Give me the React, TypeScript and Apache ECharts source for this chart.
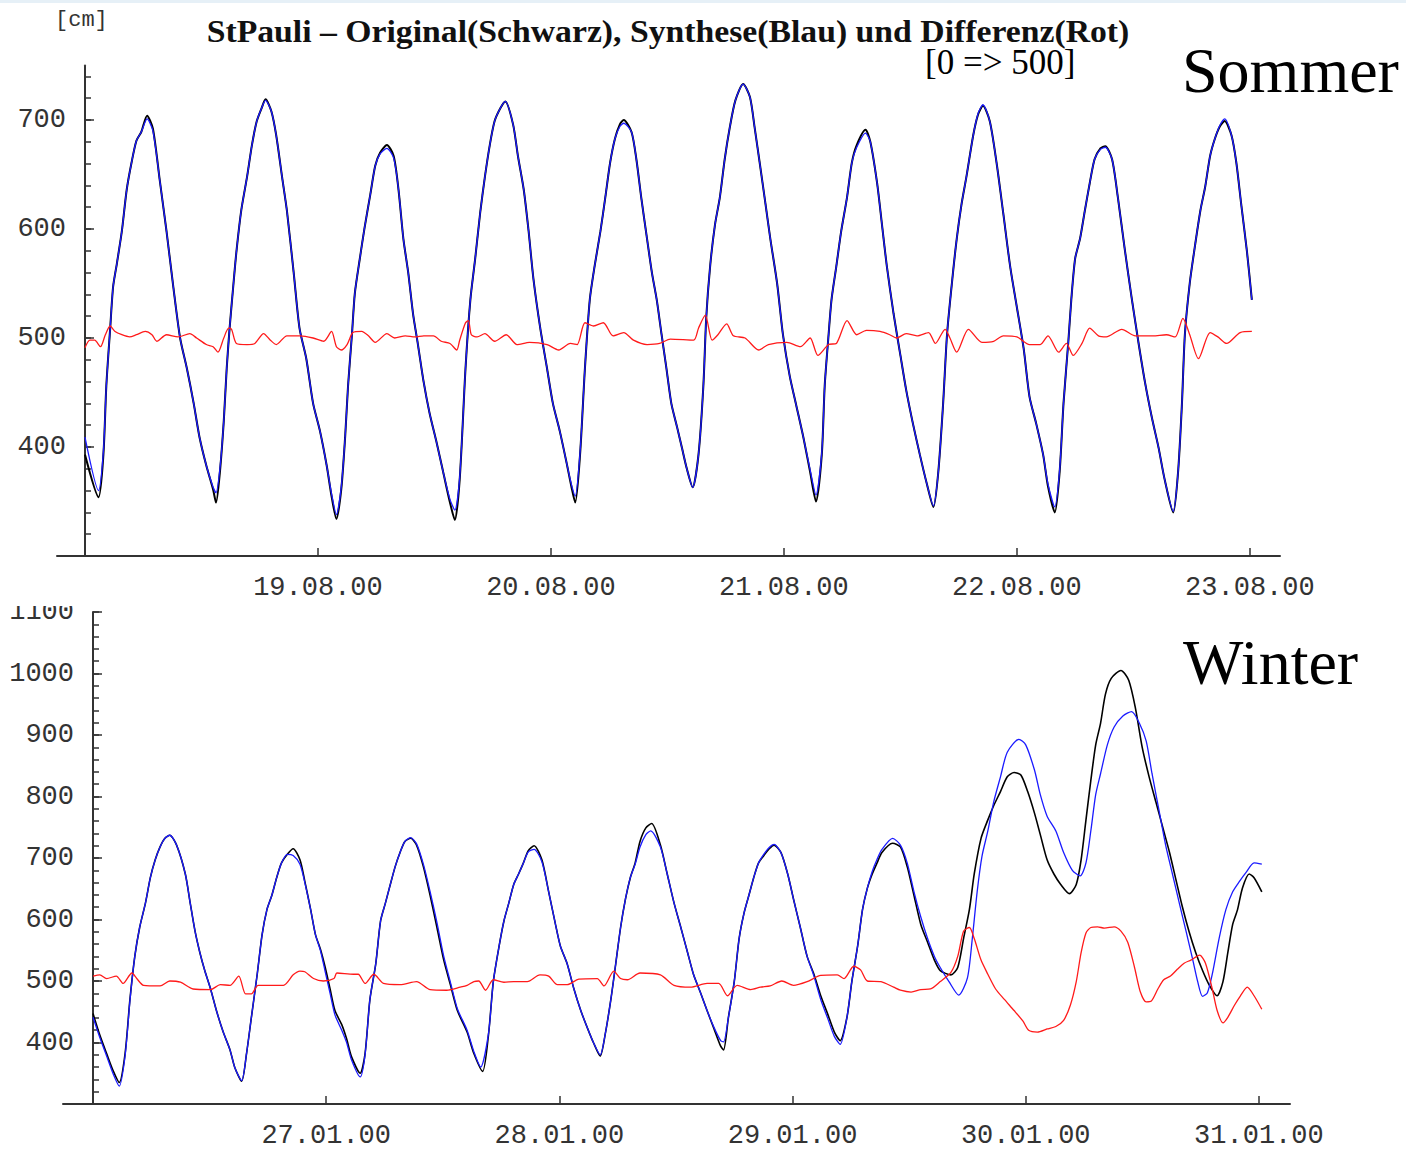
import React, { useEffect, useRef } from "react";
import * as echarts from "echarts";

// ---------- DATA ----------
const topDates = ["19.08.00", "20.08.00", "21.08.00", "22.08.00", "23.08.00"];
const winterDates = ["27.01.00", "28.01.00", "29.01.00", "30.01.00", "31.01.00"];
const dayTicks = [24, 48, 72, 96, 120];
const topMinorTicks = [300, 320, 340, 360, 380, 400, 420, 440, 460, 480, 500, 520, 540, 560, 580, 600, 620, 640, 660, 680, 700, 720, 740];
const topMajorTicks = [400, 500, 600, 700];
const winterMinorTicks = [300, 320, 340, 360, 380, 400, 420, 440, 460, 480, 500, 520, 540, 560, 580, 600, 620, 640, 660, 680, 700, 720, 740, 760, 780, 800, 820, 840, 860, 880, 900, 920, 940, 960, 980, 1000, 1020, 1040, 1060, 1080, 1100];
const winterMajorTicks = [400, 500, 600, 700, 800, 900, 1000, 1100];

// Sommer: hours since 18.08.00 00:00, water level [cm]
const sommerOriginal: [number, number][] = [
  [0,393],[1.4,354],[1.9,393],[2.2,456],[2.6,509],[2.9,547],[3.3,569],[3.8,598],[4.3,636],[4.8,661],[5.3,681],[5.8,689],[6.4,704],[7.0,692],[7.7,645],[8.4,598],[9.1,547],[9.8,500],[10.5,472],[11.2,440],[11.8,409],[12.5,383],[13.2,361],[13.5,349],[13.9,377],[14.3,424],[14.6,472],[14.9,509],[15.3,550],[15.6,579],[16.1,617],[16.7,648],[17.2,677],[17.7,699],[18.2,711],[18.6,719],[19.2,708],[19.7,686],[20.3,648],[20.8,617],[21.5,560],[22.1,509],[22.8,481],[23.5,440],[24.2,415],[24.9,383],[25.4,355],[25.9,334],[26.4,361],[26.8,409],[27.1,456],[27.5,503],[27.8,541],[28.3,572],[28.8,601],[29.4,632],[29.9,658],[30.4,670],[31.1,677],[31.8,667],[32.3,636],[32.8,591],[33.3,560],[33.8,522],[34.3,494],[34.9,459],[35.5,431],[36.2,405],[36.9,377],[37.6,349],[38.1,333],[38.6,370],
  [39.2,472],[39.7,535],[40.2,573],[40.7,614],[41.2,648],[41.7,677],[42.2,699],[42.8,711],[43.3,717],[44.1,696],[44.6,667],[45.2,636],[45.7,598],[46.2,554],[46.9,509],[47.6,472],[48.2,440],[48.9,415],[49.6,386],[50.1,364],[50.5,349],[51.0,393],[51.5,472],[52.0,535],[52.5,566],[53.1,598],[53.6,629],[54.1,661],[54.6,683],[55.1,696],[55.5,700],[56.3,689],[56.8,664],[57.3,629],[57.9,591],[58.4,560],[58.9,535],[59.4,503],[59.9,472],[60.4,440],[61.0,418],[61.5,399],[62.0,380],[62.6,363],[63.2,393],[63.7,456],[64.0,519],[64.4,566],[64.9,604],[65.4,629],[65.9,664],[66.4,692],[67.0,718],[67.8,733],[68.5,721],[69.0,692],[69.5,661],[70.1,623],[70.6,591],[71.3,550],[71.9,503],[72.6,465],[73.3,437],[74.0,409],[74.7,377],[75.3,350],[75.9,393],[76.2,456],[76.6,503],[76.9,535],[77.4,566],[77.9,598],[78.5,629],[79.0,661],[79.5,677],[80.4,691],
  [80.9,680],[81.6,642],[82.1,604],[82.6,566],[83.3,522],[84.0,484],[84.6,452],[85.3,421],[86.0,393],[86.7,367],[87.4,345],[87.9,377],[88.4,440],[88.8,503],[89.3,550],[89.8,591],[90.3,623],[90.8,648],[91.5,686],[92.0,705],[92.5,713],[93.2,699],[93.9,661],[94.6,614],[95.3,566],[96.0,528],[96.7,490],[97.3,446],[98.0,421],[98.7,393],[99.2,364],[99.9,340],[100.4,377],[100.8,440],[101.3,497],[101.6,535],[102.0,573],[102.5,591],[103.0,617],[103.5,642],[104.0,664],[104.6,674],[105.1,676],[105.8,664],[106.4,629],[107.1,582],[107.8,538],[108.5,497],[109.2,459],[109.9,427],[110.6,399],[111.2,371],[112.1,340],[112.6,377],[113.0,440],[113.3,503],[113.8,550],[114.3,582],[114.9,617],[115.4,639],[115.9,667],[116.4,683],[116.9,694],[117.4,699],[118.1,686],[118.6,661],[119.1,623],[119.7,579],[120.2,535]
];

const sommerSynthese: [number, number][] = [
  [0,409],[1.4,360],[1.9,396],[2.2,456],[2.6,509],[2.9,547],[3.3,569],[3.8,598],[4.3,636],[4.8,661],[5.3,681],[5.8,689],[6.4,701],[7.0,690],[7.7,645],[8.4,598],[9.1,547],[9.8,500],[10.5,472],[11.2,440],[11.8,409],[12.5,383],[13.2,363],[13.5,358],[13.9,380],[14.3,424],[14.6,472],[14.9,509],[15.3,550],[15.6,579],[16.1,617],[16.7,648],[17.2,677],[17.7,699],[18.2,711],[18.6,718],[19.2,708],[19.7,686],[20.3,648],[20.8,617],[21.5,560],[22.1,509],[22.8,481],[23.5,440],[24.2,415],[24.9,383],[25.4,357],[25.9,338],[26.4,363],[26.8,409],[27.1,456],[27.5,503],[27.8,541],[28.3,572],[28.8,601],[29.4,632],[29.9,658],[30.4,669],[31.1,674],[31.8,665],[32.3,636],[32.8,591],[33.3,560],[33.8,522],[34.3,494],[34.9,459],[35.5,431],[36.2,405],[36.9,377],[37.6,352],[38.1,342],[38.6,372],
  [39.2,472],[39.7,535],[40.2,573],[40.7,614],[41.2,648],[41.7,677],[42.2,699],[42.8,711],[43.3,717],[44.1,696],[44.6,667],[45.2,636],[45.7,598],[46.2,554],[46.9,509],[47.6,472],[48.2,440],[48.9,415],[49.6,386],[50.1,366],[50.5,355],[51.0,395],[51.5,472],[52.0,535],[52.5,566],[53.1,598],[53.6,629],[54.1,661],[54.6,683],[55.1,694],[55.5,697],[56.3,689],[56.8,664],[57.3,629],[57.9,591],[58.4,560],[58.9,535],[59.4,503],[59.9,472],[60.4,440],[61.0,418],[61.5,399],[62.0,380],[62.6,363],[63.2,393],[63.7,456],[64.0,519],[64.4,566],[64.9,604],[65.4,629],[65.9,664],[66.4,692],[67.0,718],[67.8,733],[68.5,721],[69.0,692],[69.5,661],[70.1,623],[70.6,591],[71.3,550],[71.9,503],[72.6,465],[73.3,437],[74.0,409],[74.7,379],[75.3,356],[75.9,395],[76.2,456],[76.6,503],[76.9,535],[77.4,566],[77.9,598],[78.5,629],[79.0,661],[79.5,675],[80.4,688],
  [80.9,680],[81.6,642],[82.1,604],[82.6,566],[83.3,522],[84.0,484],[84.6,452],[85.3,421],[86.0,393],[86.7,367],[87.4,346],[87.9,377],[88.4,440],[88.8,503],[89.3,550],[89.8,591],[90.3,623],[90.8,648],[91.5,686],[92.0,706],[92.5,714],[93.2,699],[93.9,661],[94.6,614],[95.3,566],[96.0,528],[96.7,490],[97.3,446],[98.0,421],[98.7,393],[99.2,366],[99.9,345],[100.4,379],[100.8,440],[101.3,497],[101.6,535],[102.0,573],[102.5,591],[103.0,617],[103.5,642],[104.0,664],[104.6,673],[105.1,675],[105.8,664],[106.4,629],[107.1,582],[107.8,538],[108.5,497],[109.2,459],[109.9,427],[110.6,399],[111.2,371],[112.1,341],[112.6,377],[113.0,440],[113.3,503],[113.8,550],[114.3,582],[114.9,617],[115.4,639],[115.9,667],[116.4,683],[116.9,695],[117.4,701],[118.1,686],[118.6,661],[119.1,623],[119.7,579],[120.2,535]
];

const sommerDifferenz: [number, number][] = [
  [0,491],[0.5,498],[1.0,498],[1.6,492],[2.1,503],[2.6,511],[3.1,506],[3.8,503],[4.6,501],[5.3,503],[6.2,506],[6.9,503],[7.4,497],[8.4,503],[9.6,501],[10.8,504],[11.5,500],[12.5,494],[13.2,492],[13.7,487],[14.3,500],[14.8,509],[15.1,508],[15.6,495],[16.7,494],[17.5,495],[18.4,504],[19.1,498],[19.7,494],[20.8,502],[22.2,502],[23.5,500],[24.6,497],[25.4,506],[25.9,492],[26.4,489],[27.0,494],[27.6,505],[28.5,506],[29.2,502],[29.9,496],[31.1,504],[31.9,500],[33.0,502],[34.0,501],[34.9,502],[35.9,502],[36.7,497],[37.6,495],[38.3,489],[38.6,498],[39.2,514],[39.5,516],[39.8,503],[40.4,501],[41.2,504],[42.2,497],[43.4,503],[44.5,494],[45.8,496],[47.6,494],[48.8,489],[50.0,495],[50.7,494],[51.5,514],[52.4,511],[53.4,514],[54.4,502],[55.5,505],[56.5,498],[57.9,494],[59.2,495],[60.3,499],[62.7,498],[63.2,509],[63.9,521],[64.6,498],[65.2,503],[66.1,513],[66.8,502],[68.0,500],[69.4,489],[70.4,494],[72.3,496],[73.7,492],[74.7,500],[75.5,484],[76.6,494],[77.4,495],[78.5,516],[79.5,503],[80.5,507],[81.9,506],[82.9,503],[83.6,500],[84.6,504],[85.7,502],[86.9,505],[87.6,495],[88.6,508],[89.1,500],[89.8,487],[91.0,508],[92.4,496],[93.6,497],[94.6,502],[96.0,501],[97.3,494],[98.4,494],[99.2,502],[100.3,487],[101.1,495],[101.8,484],[102.7,495],[103.5,509],[104.4,502],[105.2,501],[106.8,508],[108.2,502],[110.0,502],[111.4,503],[112.3,501],[113.1,518],[113.8,503],[114.7,481],[115.9,505],[116.7,501],[117.6,495],[119.0,505],[120.2,506]
];

// Winter: hours since 26.01.00 00:00, water level [cm]
const winterOriginal: [number, number][] = [
  [0,447],[0.7,412],[1.4,382],[2.1,353],[2.7,335],[3.3,382],[3.8,470],[4.3,540],[4.8,587],[5.4,627],[5.9,668],[6.4,697],[6.9,718],[7.4,732],[7.9,737],[8.6,721],[9.5,674],[10.0,627],[10.5,581],[11.0,546],[11.5,517],[12.1,487],[12.7,452],[13.4,417],[14.1,388],[14.6,359],[15.3,337],[15.8,382],[16.3,441],[16.9,511],[17.4,575],[17.9,616],[18.4,639],[18.9,668],[19.4,692],[20.0,706],[20.6,715],[21.3,697],[21.8,662],[22.4,616],[22.9,575],[23.4,552],[23.9,522],[24.4,487],[24.9,452],[25.6,429],[26.1,406],[26.6,377],[27.5,350],[28.0,382],[28.5,470],[29.1,528],[29.6,598],[30.1,627],[30.6,657],[31.1,686],[31.6,709],[32.1,727],[32.7,732],[33.3,721],[34.0,686],[34.7,639],[35.4,587],[36.1,534],[36.8,493],[37.5,452],
  [38.5,417],[39.2,382],[40.1,353],[40.7,412],[41.2,499],[41.8,557],[42.3,598],[42.8,627],[43.3,657],[43.8,674],[44.3,692],[44.8,712],[45.4,720],[46.2,697],[46.9,645],[47.6,592],[48.1,557],[48.8,528],[49.5,487],[50.2,452],[50.9,423],[51.5,400],[52.2,378],[52.7,412],[53.3,470],[53.8,528],[54.3,587],[54.8,633],[55.3,668],[55.8,692],[56.3,727],[56.9,749],[57.5,756],[58.4,721],[59.1,674],[59.8,627],[60.5,587],[61.2,546],[61.8,511],[62.5,482],[63.2,452],[63.9,423],[64.6,394],[64.9,388],[65.4,441],[66.0,499],[66.5,569],[67.0,610],[67.5,639],[68.0,668],[68.5,692],[69.0,703],[69.6,715],[70.1,721],[70.8,709],[71.5,674],[72.1,633],[72.8,587],[73.5,540],[74.2,511],[74.9,476],[75.6,447],[76.3,417],[76.9,403],[77.6,441],[78.1,499],[78.7,557],[79.2,616],[79.7,651],[80.2,674],[80.7,692],[81.2,709],[82.3,724],
  [83.1,718],[83.8,686],[84.5,639],[85.2,592],[85.9,563],[86.6,534],[87.2,517],[88.3,510],[89.0,522],[89.6,569],[90.2,616],[90.7,674],[91.4,732],[92.1,762],[92.7,785],[93.4,808],[94.1,832],[94.8,839],[95.5,835],[96.2,808],[96.9,773],[97.5,738],[98.2,697],[98.9,674],[99.6,657],[100.5,642],[101.2,657],[101.7,697],[102.2,762],[102.7,826],[103.2,884],[103.7,919],[104.2,966],[104.8,992],[105.8,1005],[106.6,989],[107.3,943],[108.0,879],[108.7,832],[109.4,791],[110.1,750],[110.8,709],[111.5,662],[112.1,622],[112.8,581],[113.5,546],[114.2,517],[114.9,493],[115.7,476],[116.3,499],[116.8,546],[117.3,592],[117.8,616],[118.3,651],[119.0,674],[119.5,668],[120.3,645]
];

const winterSynthese: [number, number][] = [
  [0,441],[0.7,408],[1.4,378],[2.1,348],[2.7,329],[3.3,378],[3.8,468],[4.3,540],[4.8,587],[5.4,627],[5.9,668],[6.4,697],[6.9,718],[7.4,732],[7.9,737],[8.6,721],[9.5,674],[10.0,627],[10.5,581],[11.0,546],[11.5,517],[12.1,487],[12.7,452],[13.4,417],[14.1,388],[14.6,359],[15.3,338],[15.8,382],[16.3,441],[16.9,511],[17.4,575],[17.9,616],[18.4,639],[18.9,668],[19.4,692],[20.0,706],[20.6,704],[21.3,690],[21.8,660],[22.4,616],[22.9,575],[23.4,550],[23.9,515],[24.4,480],[24.9,445],[25.6,420],[26.1,400],[26.6,372],[27.5,344],[28.0,380],[28.5,470],[29.1,528],[29.6,598],[30.1,627],[30.6,657],[31.1,686],[31.6,709],[32.1,727],[32.7,733],[33.3,723],[34.0,690],[34.7,645],[35.4,595],[36.1,540],[36.8,497],[37.5,455],
  [38.5,420],[39.2,385],[39.9,360],[40.7,414],[41.2,499],[41.8,557],[42.3,598],[42.8,627],[43.3,657],[43.8,674],[44.3,692],[44.8,710],[45.4,714],[46.2,694],[46.9,645],[47.6,592],[48.1,557],[48.8,528],[49.5,487],[50.2,452],[50.9,423],[51.5,400],[52.2,380],[52.7,412],[53.3,470],[53.8,528],[54.3,587],[54.8,633],[55.3,668],[55.8,690],[56.3,718],[56.9,738],[57.4,744],[58.4,718],[59.1,674],[59.8,627],[60.5,587],[61.2,546],[61.8,511],[62.5,482],[63.2,452],[63.9,425],[64.6,403],[64.9,401],[65.4,441],[66.0,499],[66.5,569],[67.0,610],[67.5,639],[68.0,668],[68.5,692],[69.0,705],[69.6,717],[70.1,722],[70.8,709],[71.5,674],[72.1,633],[72.8,587],[73.5,540],[74.2,508],[74.9,470],[75.6,440],[76.3,410],[76.9,397],[77.6,441],[78.1,499],[78.7,557],[79.2,616],[79.7,651],[80.2,678],[80.7,698],[81.2,714],[82.3,732],
  [83.1,721],[83.8,692],[84.5,645],[85.2,604],[85.9,569],[86.6,540],[87.2,522],[88.1,499],[89.1,477],[90.0,505],[90.5,569],[91.0,645],[91.5,703],[92.1,744],[92.7,791],[93.4,832],[94.1,872],[95.3,893],[96.0,884],[96.9,843],[97.5,803],[98.2,768],[99.1,744],[99.9,709],[100.8,680],[101.6,671],[102.2,692],[102.7,744],[103.2,803],[103.7,837],[104.4,884],[105.1,913],[106.0,931],[106.9,938],[107.7,919],[108.4,890],[109.0,837],[109.7,779],[110.4,721],[111.1,674],[111.8,627],[112.5,581],[113.2,534],[113.7,499],[114.2,475],[114.7,481],[115.2,511],[115.9,569],[116.6,616],[117.3,645],[118.0,662],[118.7,677],[119.5,692],[120.3,690]
];

const winterDifferenz: [number, number][] = [
  [0,508],[0.7,510],[1.4,504],[2.4,508],[3.1,496],[4.0,513],[4.5,504],[5.2,493],[6.9,492],[7.9,500],[9.0,498],[10.3,487],[12.1,486],[13.1,494],[14.1,493],[15.0,508],[15.7,479],[16.3,479],[17.0,493],[19.6,493],[20.6,510],[21.3,516],[21.8,515],[22.7,504],[23.7,500],[24.8,504],[25.1,513],[26.8,511],[27.3,511],[28.0,496],[28.9,511],[29.9,496],[31.6,494],[33.3,499],[34.7,486],[36.4,485],[37.8,490],[38.5,493],[39.2,499],[39.7,500],[40.4,485],[41.2,502],[42.3,498],[43.3,499],[44.7,499],[46.0,510],[46.9,508],[47.8,494],[48.8,494],[50.0,503],[51.9,504],[52.6,492],[53.6,516],[54.3,504],[55.0,502],[56.3,513],[58.4,510],[59.8,493],[61.5,490],[63.2,496],[64.4,496],[65.3,476],[66.3,493],[67.7,486],[68.7,490],[69.7,492],[70.9,500],[72.1,493],[73.5,499],[74.9,509],[76.6,510],[77.3,504],[78.3,524],[79.0,518],[79.7,500],[81.1,499],[82.4,490],[83.1,485],[84.2,482],[85.2,486],[86.2,487],[87.2,499],[88.3,514],[89.0,540],[89.6,581],[90.2,587],[90.7,569],[91.4,534],[92.1,511],[92.9,487],[93.8,470],[94.8,452],[95.7,435],[96.3,420],[97.2,417],[98.2,422],[99.1,426],[99.9,436],[100.6,461],[101.2,499],[101.7,546],[102.2,578],[102.7,587],[103.4,588],[104.1,586],[105.1,588],[105.8,581],[106.5,563],[107.2,522],[107.8,482],[108.4,466],[108.9,467],[109.6,487],[110.2,502],[110.9,508],[111.6,519],[112.3,529],[113.0,534],[113.9,542],[114.5,529],[115.2,487],[115.7,452],[116.3,432],[116.8,441],[117.5,461],[118.1,476],[118.8,490],[119.5,476],[120.3,454]
];

const titleText = "StPauli – Original(Schwarz), Synthese(Blau) und Differenz(Rot)";

// ---------- COMPONENT ----------
const AXIS_COLOR = "#333";
const MONO = '"Liberation Mono", "Courier New", monospace';
const SERIF = '"Liberation Serif", "Times New Roman", serif';

function measure(text: string, font: string): number {
  const c = document.createElement("canvas");
  const ctx = c.getContext("2d");
  if (!ctx) return 1;
  ctx.font = font;
  return ctx.measureText(text).width || 1;
}

export default function App() {
  const ref = useRef<HTMLDivElement>(null);
  useEffect(() => {
    if (!ref.current) return;
    const chart = echarts.init(ref.current, null, { renderer: "svg" });

    const titleFont = `bold 31px ${SERIF}`;
    const titleScale = 923 / measure(titleText, titleFont);

    const xAxisBase = (gridIndex: number, min: number, max: number, labels: string[]) => ({
      gridIndex,
      type: "value",
      min,
      max,
      axisLine: { show: true, onZero: false, lineStyle: { color: AXIS_COLOR, width: 2 } },
      axisTick: { show: true, inside: true, length: 8, customValues: dayTicks, lineStyle: { color: AXIS_COLOR, width: 1.5 } },
      axisLabel: {
        show: true,
        customValues: dayTicks,
        formatter: (v: number) => labels[Math.round(v / 24) - 1] ?? "",
        fontFamily: MONO,
        fontSize: 27,
        color: AXIS_COLOR,
        margin: 18,
      },
      splitLine: { show: false },
    });

    const hiddenX = (gridIndex: number, min: number, max: number) => ({
      gridIndex, type: "value", min, max, show: false,
    });

    const yAxisBase = (gridIndex: number, min: number, max: number, offset: number, minor: number[], major: number[]) => ({
      gridIndex,
      type: "value",
      min,
      max,
      position: "left",
      offset,
      axisLine: { show: true, onZero: false, lineStyle: { color: AXIS_COLOR, width: 2 } },
      axisTick: { show: true, inside: true, length: 6, customValues: minor, lineStyle: { color: AXIS_COLOR, width: 1.5 } },
      axisLabel: {
        show: true,
        customValues: major,
        formatter: (v: number) => String(v),
        fontFamily: MONO,
        fontSize: 27,
        color: AXIS_COLOR,
        margin: 19,
      },
      splitLine: { show: false },
    });

    const yAxisMajor = (gridIndex: number, min: number, max: number, offset: number, major: number[]) => ({
      gridIndex,
      type: "value",
      min,
      max,
      position: "left",
      offset,
      axisLine: { show: false, onZero: false },
      axisTick: { show: true, inside: true, length: 9, customValues: major, lineStyle: { color: AXIS_COLOR, width: 1.5 } },
      axisLabel: { show: false },
      splitLine: { show: false },
    });

    const line = (name: string, data: [number, number][], idx: number, color: string, width: number, z: number) => ({
      name,
      type: "line",
      xAxisIndex: idx,
      yAxisIndex: idx,
      data,
      showSymbol: false,
      symbol: "none",
      smooth: 0.25,
      lineStyle: { color, width },
      z,
      silent: true,
    });

    const gridTop = { left: 57, top: 65.5, width: 1223, height: 490.5, outerBoundsMode: "none", containLabel: false };
    const gridBottom = { left: 63, top: 612, width: 1227, height: 492, outerBoundsMode: "none", containLabel: false };

    const option = {
      animation: false,
      backgroundColor: "#ffffff",
      grid: [gridTop, gridBottom, { ...gridTop }, { ...gridBottom }],
      xAxis: [
        xAxisBase(0, -2.88, 123.1, topDates),
        xAxisBase(1, -3.09, 123.2, winterDates),
        hiddenX(2, -2.88, 123.1),
        hiddenX(3, -3.09, 123.2),
      ],
      yAxis: [
        yAxisBase(0, 300, 750, -28, topMinorTicks, topMajorTicks),
        yAxisBase(1, 300, 1100, -30, winterMinorTicks, winterMajorTicks),
        yAxisMajor(2, 300, 750, -28, topMajorTicks),
        yAxisMajor(3, 300, 1100, -30, winterMajorTicks),
      ],
      series: [
        line("Original (Sommer)", sommerOriginal, 0, "#000000", 2, 2),
        line("Synthese (Sommer)", sommerSynthese, 0, "#1a1aff", 1.3, 3),
        line("Differenz (Sommer)", sommerDifferenz, 0, "#ff1a1a", 1.3, 4),
        line("Original (Winter)", winterOriginal, 1, "#000000", 1.6, 2),
        line("Synthese (Winter)", winterSynthese, 1, "#1a1aff", 1.3, 3),
        line("Differenz (Winter)", winterDifferenz, 1, "#ff1a1a", 1.3, 4),
      ],
      graphic: [
        { type: "rect", shape: { x: 0, y: 0, width: 1406, height: 3 }, style: { fill: "#e6f0f7" }, silent: true },
        { type: "rect", shape: { x: 0, y: 594, width: 84, height: 12 }, style: { fill: "#ffffff" }, silent: true, z: 100 },
        { type: "text", x: 55, y: 20, style: { text: "[cm]", font: `22px ${MONO}`, fill: AXIS_COLOR, textVerticalAlign: "middle", verticalAlign: "middle" } },
        { type: "text", x: 668, y: 31, scaleX: titleScale, style: { text: titleText, font: titleFont, fill: "#111", textAlign: "center", align: "center", textVerticalAlign: "middle", verticalAlign: "middle" } },
        { type: "text", x: 925, y: 62, style: { text: "[0 => 500]", font: `35px ${SERIF}`, fill: "#000", textVerticalAlign: "middle", verticalAlign: "middle" } },
        { type: "text", x: 1182, y: 70, style: { text: "Sommer", font: `64px ${SERIF}`, fill: "#000", textVerticalAlign: "middle", verticalAlign: "middle" } },
        { type: "text", x: 1183, y: 662, style: { text: "Winter", font: `64px ${SERIF}`, fill: "#000", textVerticalAlign: "middle", verticalAlign: "middle" } },
      ],
    };

    chart.setOption(option as any);
    return () => chart.dispose();
  }, []);

  return (
    <div
      ref={ref}
      style={{ position: "absolute", left: 0, top: 0, width: 1406, height: 1149, background: "#fff" }}
    />
  );
}
